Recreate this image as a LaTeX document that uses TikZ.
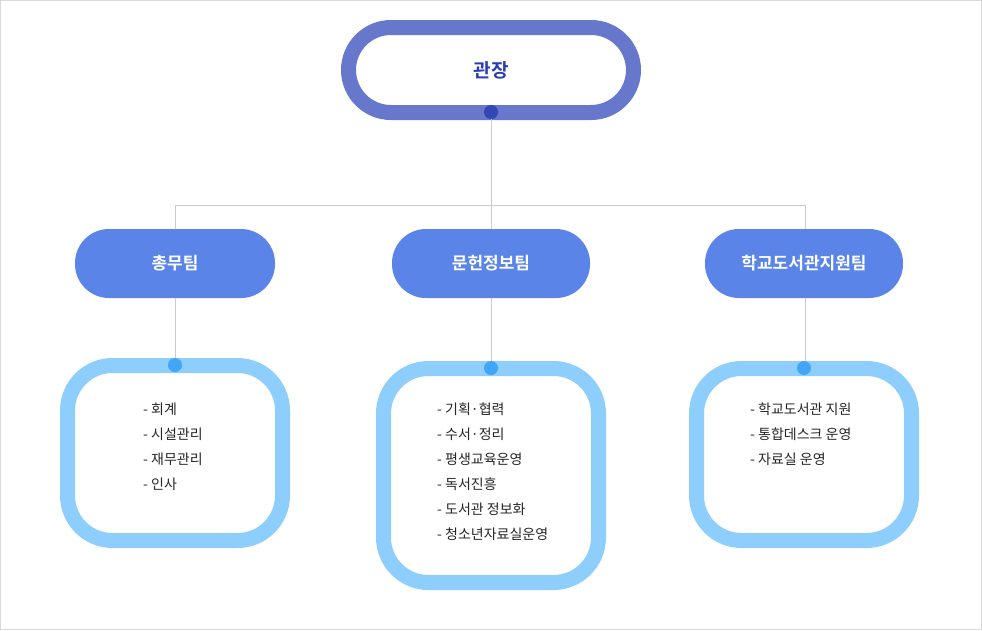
\documentclass[tikz,border=0pt]{standalone}
\usepackage{fontspec}
\setmainfont{Noto Sans CJK KR}
\newfontfamily\kb{Noto Sans CJK KR Bold}
\begin{document}
\begin{tikzpicture}[x=1pt,y=-1pt,
 ln/.style={draw=black!20,line width=0.8},
 pill/.style={fill=teamblue,rounded corners=34},
 ring/.style={draw=ringblue,line width=15,fill=white},
 dot/.style={circle,fill=dotblue,inner sep=0,minimum size=14},
 lst/.style={anchor=north west,align=left,font=\fontsize{14}{25}\selectfont,text=black!85,inner sep=0}]
\definecolor{teamblue}{HTML}{5A84E8}
\definecolor{ringblue}{HTML}{8ECEFC}
\definecolor{dotblue}{HTML}{42A5F5}
\definecolor{topring}{HTML}{6677CC}
\useasboundingbox (0,0) rectangle (982,630);
\draw[black!15] (0.5,0.5) rectangle (981.5,629.5);
% top
\draw[draw=topring,line width=15,fill=white,rounded corners=42.5] (348.5,27.5) rectangle (633.5,112.5);
\node[font=\kb\fontsize{19}{22}\selectfont,text={rgb,255:red,40;green,60;blue,180}] (top) at (491,70) {관장};
\node[circle,fill={rgb,255:red,50;green,70;blue,180},inner sep=0,minimum size=14] (td) at (491,112) {};
\coordinate (j) at (491,205);
\coordinate (l) at (175,205);
\coordinate (r) at (805,205);
\draw[ln] (td) -- (j); \draw[ln] (l) -- (r);
% teams
\fill[pill] (75,229) rectangle (275,298);
\fill[pill] (392,229) rectangle (590,298);
\fill[pill] (705,229) rectangle (903,298);
\node[font=\kb\fontsize{17}{20}\selectfont,text=white] (t1) at (175,263.5) {총무팀};
\node[font=\kb\fontsize{17}{20}\selectfont,text=white] (t2) at (491,263.5) {문헌정보팀};
\node[font=\kb\fontsize{17}{20}\selectfont,text=white] (t3) at (804,263.5) {학교도서관지원팀};
\draw[ln] (l) -- (175,229); \draw[ln] (j) -- (491,229); \draw[ln] (r) -- (805,229);
% boxes
\draw[ring,rounded corners=45] (67.5,365.5) rectangle (282.5,540.5);
\draw[ring,rounded corners=45] (383.5,368.5) rectangle (598.5,582.5);
\draw[ring,rounded corners=45] (696.5,368.5) rectangle (911.5,540.5);
\draw[ln] (175,298) -- (175,365); \draw[ln] (491,298) -- (491,368); \draw[ln] (805,298) -- (805,368);
\node[dot] (d1) at (175,365) {};
\node[dot] (d2) at (491,368) {};
\node[dot] (d3) at (804,368) {};
\node[lst] (l1) at (143,403) {- 회계\\- 시설관리\\- 재무관리\\- 인사};
\node[lst] (l2) at (437,403) {- 기획·협력\\- 수서·정리\\- 평생교육운영\\- 독서진흥\\- 도서관 정보화\\- 청소년자료실운영};
\node[lst] (l3) at (750,403) {- 학교도서관 지원\\- 통합데스크 운영\\- 자료실 운영};
\end{tikzpicture}
\end{document}
